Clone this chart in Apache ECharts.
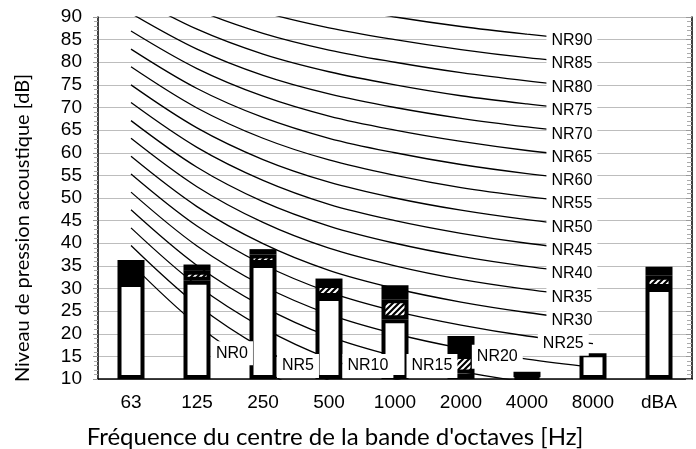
<!DOCTYPE html>
<html>
<head>
<meta charset="utf-8">
<script src="https://cdn.jsdelivr.net/npm/echarts@6/dist/echarts.min.js"></script>
<style>
html, body { margin: 0; padding: 0; background: #fff; }
#chart { width: 696px; height: 449px; }
</style>
</head>
<body>
<div id="chart"></div>
<script>
// bands
var categories = ['63', '125', '250', '500', '1000', '2000', '4000', '8000', 'dBA'];

// bar segments, top of each part in dB (null = part not present)
var whiteTop = [31.2, 31.7, 35.4, 28.1, 23.2, 11.2, 10.4, 15.7, 30.1];
var hatchTop = [null, 33.9, 37.5, 31.0, 27.6, 15.3, null, null, 32.8];
var blackTop = [36.3, 35.3, 38.7, 32.2, 30.7, 19.5, 11.6, null, 34.8];

// NR curves, one value per curve (NR0 .. NR90) for each band
var nrLevels = [0, 5, 10, 15, 20, 25, 30, 35, 40, 45, 50, 55, 60, 65, 70, 75, 80, 85, 90];
var nr63   = [35.5, 39.5, 43.4, 47.4, 51.3, 55.3, 59.2, 63.2, 67.1, 71.1, 75.0, 79.0, 82.9, 86.9, 90.8, 94.8, 98.7, 102.7, 106.6];
var nr125  = [22.0, 26.4, 30.7, 35.1, 39.4, 43.8, 48.1, 52.5, 56.8, 61.2, 65.5, 69.9, 74.2, 78.6, 82.9, 87.3, 91.6, 96.0, 100.3];
var nr250  = [12.0, 16.7, 21.3, 26.0, 30.6, 35.3, 39.9, 44.6, 49.2, 53.9, 58.5, 63.2, 67.8, 72.5, 77.1, 81.8, 86.4, 91.1, 95.7];
var nr500  = [4.8, 9.7, 14.5, 19.4, 24.3, 29.2, 34.0, 38.9, 43.8, 48.6, 53.5, 58.4, 63.2, 68.1, 73.0, 77.9, 82.7, 87.6, 92.5];
var nr1000 = [0, 5, 10, 15, 20, 25, 30, 35, 40, 45, 50, 55, 60, 65, 70, 75, 80, 85, 90];
var nr2000 = [-3.5, 1.6, 6.7, 11.7, 16.8, 21.9, 27.0, 32.0, 37.1, 42.2, 47.3, 52.3, 57.4, 62.5, 67.6, 72.6, 77.7, 82.8, 87.9];
var nr4000 = [-6.1, -1.0, 4.2, 9.3, 14.4, 19.5, 24.7, 29.8, 34.9, 40.0, 45.2, 50.3, 55.4, 60.5, 65.7, 70.8, 75.9, 81.0, 86.2];
var nr8000 = [-8.0, -2.9, 2.3, 7.5, 12.6, 17.8, 22.9, 28.1, 33.2, 38.4, 43.5, 48.7, 53.8, 59.0, 64.1, 69.3, 74.4, 79.6, 84.7];

// where the lower labels sit (band index, dB)
var lowLabelAt = { 0: [1.53, 15.7], 5: [2.53, 12.9], 10: [3.59, 12.9], 15: [4.56, 12.9], 20: [5.55, 14.9], 25: [6.55, 17.8] };

var hatch = document.createElement('canvas');
hatch.width = 6;
hatch.height = 6;
var ctx = hatch.getContext('2d');
ctx.fillStyle = '#fff';
ctx.fillRect(0, 0, 6, 6);
ctx.strokeStyle = '#000';
ctx.lineWidth = 2.2;
ctx.beginPath();
ctx.moveTo(-1, 1); ctx.lineTo(1, -1);
ctx.moveTo(-1, 7); ctx.lineTo(7, -1);
ctx.moveTo(5, 7); ctx.lineTo(7, 5);
ctx.stroke();

var baseSeg = [], whiteSeg = [], hatchSeg = [], blackSeg = [];
for (var i = 0; i < categories.length; i++) {
	baseSeg.push(10);
	whiteSeg.push(+(whiteTop[i] - 10).toFixed(2));
	hatchSeg.push(hatchTop[i] == null ? null : +(hatchTop[i] - whiteTop[i]).toFixed(2));
	var below = hatchTop[i] == null ? whiteTop[i] : hatchTop[i];
	blackSeg.push(blackTop[i] == null ? null : +(blackTop[i] - below).toFixed(2));
}

var bandCols = [nr63, nr125, nr250, nr500, nr1000, nr2000, nr4000, nr8000];
var series = [];

nrLevels.forEach(function (n, k) {
	var pts = [];
	for (var b = 0; b < bandCols.length; b++) pts.push([b, bandCols[b][k]]);
	series.push({
		name: 'NR' + n,
		type: 'line',
		xAxisIndex: 1,
		yAxisIndex: 0,
		data: pts,
		smooth: 0.35,
		symbol: 'none',
		silent: true,
		z: 2,
		lineStyle: { color: '#000', width: 1.3 }
	});
});

var barStyle = function (fill) {
	return { color: fill, borderColor: '#000', borderWidth: 4 };
};
series.push({ type: 'bar', stack: 'm', barWidth: 27, data: baseSeg, silent: true, z: 3,
	itemStyle: { color: 'rgba(0,0,0,0)', borderWidth: 0 } });
series.push({ type: 'bar', stack: 'm', barWidth: 27, data: whiteSeg, silent: true, z: 3, itemStyle: barStyle('#fff') });
series.push({ type: 'bar', stack: 'm', barWidth: 27, data: hatchSeg, silent: true, z: 3,
	itemStyle: barStyle({ image: hatch, repeat: 'repeat' }) });
series.push({ type: 'bar', stack: 'm', barWidth: 27, data: blackSeg, silent: true, z: 3, itemStyle: barStyle('#000') });

var labelData = nrLevels.map(function (n, k) {
	var at = lowLabelAt[n];
	return {
		name: 'NR' + n,
		value: at ? at : [6.68, nr8000[k]],
		label: { offset: [0, at ? 0 : -2] }
	};
});
series.push({
	type: 'scatter',
	xAxisIndex: 1,
	yAxisIndex: 0,
	symbolSize: 1,
	itemStyle: { color: 'rgba(0,0,0,0)' },
	silent: true,
	zlevel: 1,
	z: 10,
	data: labelData,
	labelLayout: { hideOverlap: false },
	label: {
		show: true,
		position: 'inside',
		formatter: '{b}',
		fontFamily: 'Liberation Sans',
		fontSize: 16,
		color: '#000',
		opacity: 1,
		textBorderWidth: 0,
		backgroundColor: '#fff',
		padding: [4, 5]
	}
});

var chart = echarts.init(document.getElementById('chart'));
chart.setOption({
	animation: false,
	backgroundColor: '#fff',
	grid: { left: 98, right: 4, top: 17, bottom: 70 },
	xAxis: [{
		type: 'category',
		data: categories,
		axisLine: { onZero: false, lineStyle: { color: '#000', width: 1.5 } },
		axisTick: { show: false },
		axisLabel: { fontFamily: 'Liberation Sans', fontSize: 19, color: '#000', margin: 14 }
	}, {
		type: 'value',
		min: -0.5,
		max: 8.5,
		show: false
	}],
	yAxis: [{
		type: 'value',
		min: 10,
		max: 90,
		interval: 5,
		axisLine: { show: true, onZero: false, lineStyle: { color: '#000', width: 1.5 } },
		axisTick: { show: true, length: 5, lineStyle: { color: '#999' } },
		minorTick: { show: true, splitNumber: 5, length: 4, lineStyle: { color: '#aaa' } },
		splitLine: { lineStyle: { color: '#bdbdbd', width: 1 } },
		axisLabel: { fontFamily: 'Liberation Sans', fontSize: 19, color: '#000', margin: 16 }
	}, {
		type: 'value',
		position: 'right',
		min: 10,
		max: 90,
		interval: 5,
		axisLine: { show: true, onZero: false, lineStyle: { color: '#000', width: 1.5 } },
		axisTick: { show: true, inside: true, length: 6, lineStyle: { color: '#999' } },
		minorTick: { show: true, splitNumber: 5, length: 5, lineStyle: { color: '#aaa' } },
		splitLine: { show: false },
		axisLabel: { show: false }
	}],
	graphic: [{
		type: 'text',
		x: 335,
		y: 437,
		style: {
			text: "Fréquence du centre de la bande d'octaves [Hz]",
			font: '24px Lato',
			fill: '#000',
			align: 'center',
			verticalAlign: 'middle'
		}
	}, {
		type: 'text',
		x: 23,
		y: 228,
		rotation: Math.PI / 2,
		style: {
			text: 'Niveau de pression acoustique [dB]',
			font: '20px Lato',
			fill: '#000',
			align: 'center',
			verticalAlign: 'middle'
		}
	}],
	series: series
});
</script>
</body>
</html>
